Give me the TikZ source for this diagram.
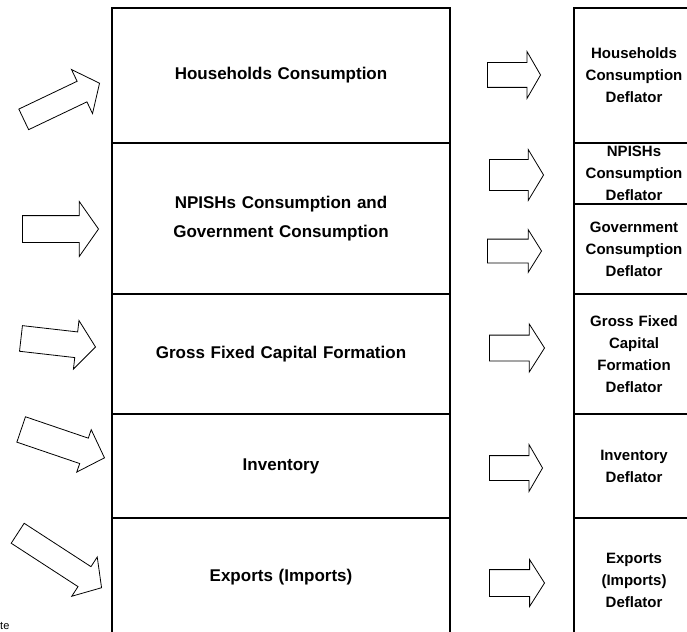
\documentclass[tikz,border=0pt]{standalone}
\usepackage{fontspec}
\setmainfont{Liberation Sans}
\usetikzlibrary{shapes.arrows}
\begin{document}
\begin{tikzpicture}[x=1pt,y=-1pt,
  cell/.style={draw, line width=1.3pt, rectangle, inner sep=0pt, align=center,
    font=\bfseries\fontsize{17}{29}\selectfont, text width=330pt},
  rcell/.style={cell, font=\bfseries\fontsize{15}{22}\selectfont, text width=116pt},
  % shaft half-width = inner ysep, head overhang = head extend
  blockarrow/.style={single arrow, draw, line width=0.8pt, inner xsep=0pt, anchor=tip, fill=white},
]
\useasboundingbox (0,0) rectangle (687,631);
\clip (0,0) rectangle (687,631);

% components column
\node[cell, minimum width=338, minimum height=135] (hh)  at (281,75.5) {Households Consumption};
\node[cell, minimum width=338, minimum height=151] (np)  at (281,218.5) {NPISHs Consumption and\\Government Consumption};
\node[cell, minimum width=338, minimum height=120] (gf)  at (281,354) {Gross Fixed Capital Formation};
\node[cell, minimum width=338, minimum height=104] (inv) at (281,466) {Inventory};
\node[cell, minimum width=338, minimum height=118] (ex)  at (281,577) {Exports (Imports)};

% deflator column
\node[rcell, minimum width=120, minimum height=135] (rhh)  at (634,75.5) {Households\\Consumption\\Deflator};
\node[rcell, minimum width=120, minimum height=61]  (rnp)  at (634,173.5) {NPISHs\\Consumption\\Deflator};
\node[rcell, minimum width=120, minimum height=90]  (rgov) at (634,249) {Government\\Consumption\\Deflator};
\node[rcell, minimum width=120, minimum height=120] (rgf)  at (634,354) {Gross Fixed\\Capital\\Formation\\Deflator};
\node[rcell, minimum width=120, minimum height=104] (rinv) at (634,466) {Inventory\\Deflator};
\node[rcell, minimum width=120, minimum height=124] (rex)  at (634,580) {Exports\\(Imports)\\Deflator};

% incoming arrows on the left
\node[blockarrow, minimum height=84,  inner ysep=11,   single arrow head extend=13,   single arrow tip angle=103, rotate=25.5] (la1) at (100,83) {};
\node[blockarrow, minimum height=76,  inner ysep=13,   single arrow head extend=14,   single arrow tip angle=110] (la2) at (99,229) {};
\node[blockarrow, minimum height=75,  inner ysep=12.5, single arrow head extend=11.5, single arrow tip angle=103, rotate=-6.5] (la3) at (96,347) {};
\node[blockarrow, minimum height=88,  inner ysep=13,   single arrow head extend=9,    single arrow tip angle=92,  rotate=-18.8] (la4) at (105,458) {};
\node[blockarrow, minimum height=100, inner ysep=11.5, single arrow head extend=11.5, single arrow tip angle=98,  rotate=-33] (la5) at (102,588) {};

% arrows between the columns
\node[blockarrow, minimum height=53, inner ysep=12,   single arrow head extend=11,  single arrow tip angle=120] (ma1) at (541,75) {};
\node[blockarrow, minimum height=54, inner ysep=15,   single arrow head extend=10,  single arrow tip angle=118] (ma2) at (544,175) {};
\node[blockarrow, minimum height=54, inner ysep=11.5, single arrow head extend=9.5, single arrow tip angle=116] (ma3) at (542,251) {};
\node[blockarrow, minimum height=55, inner ysep=12.5, single arrow head extend=11,  single arrow tip angle=115] (ma4) at (545,348) {};
\node[blockarrow, minimum height=53, inner ysep=12,   single arrow head extend=11,  single arrow tip angle=120] (ma5) at (543,468) {};
\node[blockarrow, minimum height=55, inner ysep=13,   single arrow head extend=10,  single arrow tip angle=115] (ma6) at (545,583) {};

\node[font=\fontsize{11}{12}\selectfont, anchor=base west, inner sep=0pt] (frag) at (0,629) {te};
\end{tikzpicture}
\end{document}
